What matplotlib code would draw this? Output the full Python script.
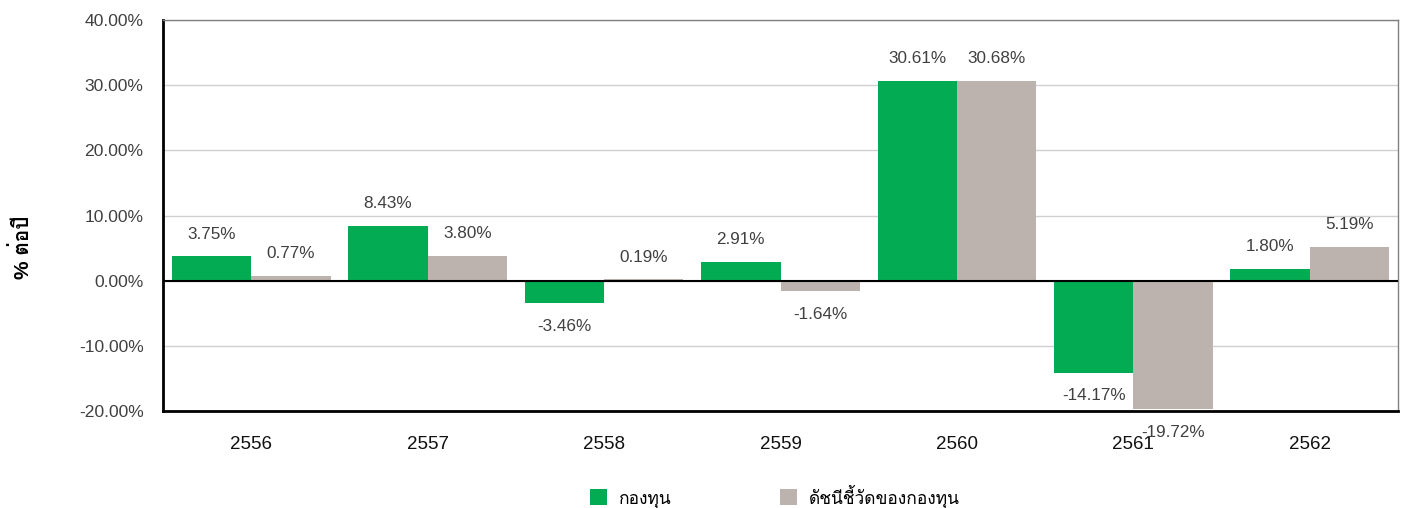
import numpy as np
import matplotlib
matplotlib.use("Agg")
import matplotlib.pyplot as plt
from matplotlib.patches import Patch

# data
years = ["2556", "2557", "2558", "2559", "2560", "2561", "2562"]
fund = [3.75, 8.43, -3.46, 2.91, 30.61, -14.17, 1.80]
bench = [0.77, 3.80, 0.19, -1.64, 30.68, -19.72, 5.19]
series_names = ["กองทุน", "ดัชนีชี้วัดของกองทุน"]

green = "#03AC52"
beige = "#BDB3AE"
thai_font = ["Liberation Sans", "Loma", "DejaVu Sans"]
plt.rcParams["font.family"] = thai_font

fig = plt.figure(figsize=(14.02, 5.08), dpi=100)
ax = fig.add_axes([163 / 1402, 1 - 411 / 508, 1235 / 1402, 391 / 508])

x = np.arange(len(years))
w = 0.45
b1 = ax.bar(x - w / 2, fund, w, color=green, zorder=3)
b2 = ax.bar(x + w / 2, bench, w, color=beige, zorder=3)

# value labels above / below bars
for bars, vals in ((b1, fund), (b2, bench)):
    for r, v in zip(bars, vals):
        off = 16 if v >= 0 else -16.5
        ax.annotate("%.2f%%" % v, (r.get_x() + r.get_width() / 2, v),
                    xytext=(0, off), textcoords="offset points",
                    ha="center", va="center", fontsize=12.3, color="#404040",
                    zorder=5)

ax.set_xlim(-0.5, len(years) - 0.5)
ax.set_ylim(-20, 40)
ax.set_yticks(np.arange(-20, 41, 10))
ax.set_yticklabels(["%.2f%%" % t for t in np.arange(-20, 41, 10)])
ax.set_xticks(x)
ax.set_xticklabels(years)
ax.tick_params(axis="y", length=0, pad=14, labelsize=12.6, labelcolor="#404040")
ax.tick_params(axis="x", length=0, pad=18, labelsize=13.5, labelcolor="#111111")
ax.yaxis.grid(True, color="#D0D0D0", lw=1, zorder=0)
ax.axhline(0, color="black", lw=1.5, zorder=4)

for s in ("top", "right"):
    ax.spines[s].set_color("#808080")
    ax.spines[s].set_linewidth(1)
for s in ("left", "bottom"):
    ax.spines[s].set_color("black")
    ax.spines[s].set_linewidth(2)

fig.text(22 / 1402, 1 - 247 / 508, "% ต่อปี", rotation=90, ha="center",
         va="center", fontsize=15, fontweight="bold", color="black")

handles = [Patch(facecolor=green), Patch(facecolor=beige)]
fig.legend(handles, series_names, loc="center", bbox_to_anchor=(775 / 1402, 1 - 496 / 508),
           ncol=2, frameon=False, fontsize=12.5, handlelength=1.0, handleheight=1.0,
           handletextpad=0.7, columnspacing=6.2)

fig.savefig("out.png", dpi=100)
